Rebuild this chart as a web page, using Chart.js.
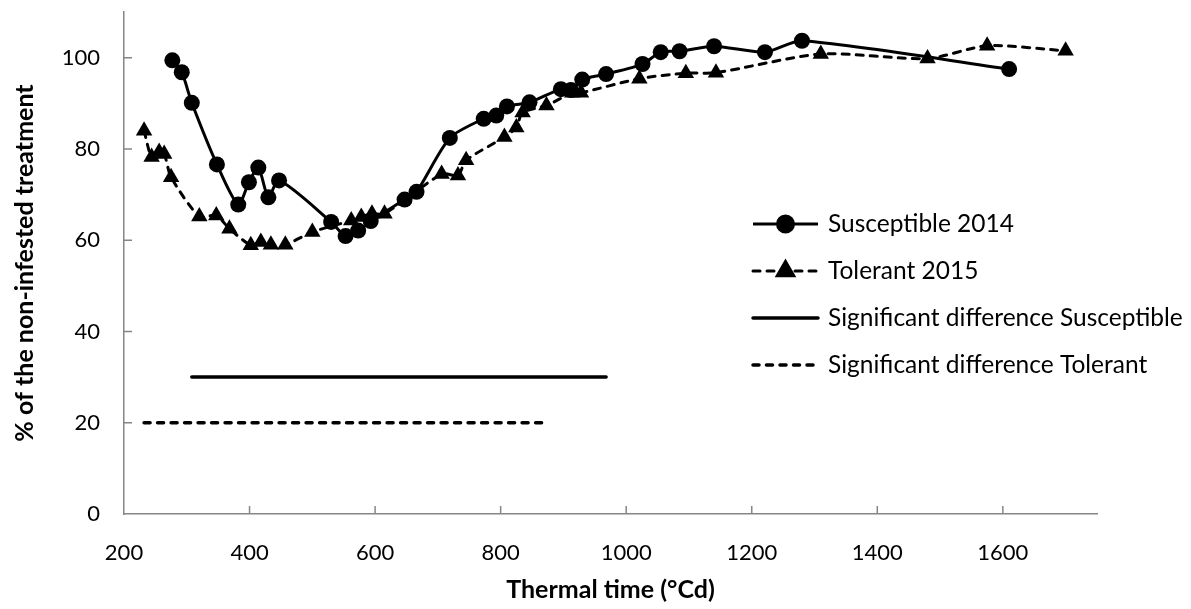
<!DOCTYPE html>
<html>
<head>
<meta charset="utf-8">
<script src="https://cdn.jsdelivr.net/npm/chart.js@4.4.1/dist/chart.umd.min.js"></script>
<style>
  body { margin: 0; background: #fff; }
  #wrap { width: 1191px; height: 609px; }
</style>
</head>
<body>
<div id="wrap"><canvas id="chart"></canvas></div>
<script>
// thermal time (°Cd) and % of non-infested treatment
const suscX = [277, 292, 308, 348, 382, 399, 414, 430, 447, 530, 553, 573, 593, 647, 666, 719, 773, 793, 810, 846, 896, 912, 930, 968, 1026, 1055, 1085, 1140, 1221, 1280, 1610];
const suscY = [99.4, 96.8, 90.1, 76.6, 67.8, 72.7, 75.9, 69.4, 73.1, 64.0, 60.9, 62.1, 64.2, 68.9, 70.6, 82.4, 86.6, 87.3, 89.3, 90.2, 93.1, 92.9, 95.2, 96.4, 98.6, 101.2, 101.4, 102.5, 101.2, 103.7, 97.5];

const tolX = [232, 244, 256, 264, 275, 320, 347, 368, 402, 418, 434, 457, 500, 562, 578, 595, 615, 706, 732, 745, 806, 825, 835, 873, 914, 928, 1021, 1095, 1143, 1310, 1480, 1575, 1700];
const tolY = [84.0, 78.2, 79.3, 78.9, 73.8, 65.2, 65.4, 62.5, 58.9, 59.6, 59.0, 59.0, 61.8, 64.3, 65.1, 65.8, 65.8, 74.5, 74.2, 77.5, 82.6, 84.7, 88.0, 89.5, 92.3, 92.3, 95.4, 96.6, 96.7, 100.8, 99.8, 102.6, 101.5];

// periods of significant difference
const sigSuscX = [308, 968];
const sigSuscY = [30, 30];
const sigTolX = [232, 872];
const sigTolY = [20, 20];

const xTicks = [200, 400, 600, 800, 1000, 1200, 1400, 1600];
const yTicks = [0, 20, 40, 60, 80, 100];

const seriesNames = ["Susceptible 2014", "Tolerant 2015", "Significant difference Susceptible", "Significant difference Tolerant"];

const FONT = "Lato";
const AXIS_GREY = "#868686";

function pts(xs, ys) {
    return xs.map((x, i) => ({ x: x, y: ys[i] }));
}

// Excel-like ticks pointing into the plot
const innerTicks = {
    id: "innerTicks",
    afterDraw(chart) {
        const { ctx, chartArea } = chart;
        const xs = chart.scales.x, ys = chart.scales.y;
        ctx.save();
        ctx.strokeStyle = AXIS_GREY;
        ctx.lineWidth = 1.5;
        ctx.beginPath();
        xs.ticks.forEach(t => {
            const px = xs.getPixelForValue(t.value);
            if (px <= chartArea.left + 1) return;
            ctx.moveTo(px, chartArea.bottom);
            ctx.lineTo(px, chartArea.bottom - 8);
        });
        ys.ticks.forEach(t => {
            const py = ys.getPixelForValue(t.value);
            if (py >= chartArea.bottom - 1) return;
            ctx.moveTo(chartArea.left, py);
            ctx.lineTo(chartArea.left + 8, py);
        });
        ctx.stroke();
        ctx.restore();
    }
};

// legend drawn inside the plot, on the right
const sideLegend = {
    id: "sideLegend",
    afterDraw(chart) {
        const { ctx } = chart;
        const x0 = 753, x1 = 818, top = 224, step = 47;
        ctx.save();
        chart.data.datasets.forEach((ds, i) => {
            const y = top + i * step;
            ctx.strokeStyle = "#000";
            ctx.lineWidth = ds.borderWidth;
            ctx.lineCap = ds.borderCapStyle || "butt";
            ctx.setLineDash(ds.borderDash || []);
            ctx.beginPath();
            ctx.moveTo(x0, y);
            ctx.lineTo(x1, y);
            ctx.stroke();
            ctx.setLineDash([]);
            if (ds.pointRadius > 0) {
                Chart.helpers.drawPoint(ctx, {
                    pointStyle: ds.pointStyle,
                    radius: ds.pointRadius,
                    rotation: 0,
                    borderWidth: 1
                }, (x0 + x1) / 2, y);
                ctx.fillStyle = "#000";
                ctx.fill();
            }
            ctx.fillStyle = "#000";
            ctx.font = "24.5px " + FONT;
            ctx.textAlign = "left";
            ctx.textBaseline = "middle";
            ctx.fillText(ds.label, x1 + 10, y);
        });
        ctx.restore();
    }
};

new Chart(document.getElementById("chart"), {
    type: "scatter",
    data: {
        datasets: [
            {
                label: seriesNames[0],
                data: pts(suscX, suscY),
                showLine: true,
                borderColor: "#000",
                backgroundColor: "#000",
                borderWidth: 3,
                tension: 0.25,
                pointStyle: "circle",
                pointRadius: 8,
                pointBorderWidth: 0
            },
            {
                label: seriesNames[1],
                data: pts(tolX, tolY),
                showLine: true,
                borderColor: "#000",
                backgroundColor: "#000",
                borderWidth: 3,
                borderDash: [7, 7],
                borderCapStyle: "round",
                tension: 0.25,
                pointStyle: "triangle",
                pointRadius: 9.5,
                pointBorderWidth: 0
            },
            {
                label: seriesNames[2],
                data: pts(sigSuscX, sigSuscY),
                showLine: true,
                borderColor: "#000",
                borderWidth: 3.5,
                borderCapStyle: "round",
                pointRadius: 0
            },
            {
                label: seriesNames[3],
                data: pts(sigTolX, sigTolY),
                showLine: true,
                borderColor: "#000",
                borderWidth: 3.5,
                borderDash: [6, 7.5],
                borderCapStyle: "round",
                pointRadius: 0
            }
        ]
    },
    options: {
        responsive: true,
        maintainAspectRatio: false,
        animation: false,
        layout: { padding: { left: 0, right: 94, top: 12, bottom: 0 } },
        plugins: {
            legend: { display: false },
            tooltip: { enabled: false }
        },
        scales: {
            x: {
                type: "linear",
                min: 200,
                max: 1750,
                afterBuildTicks: axis => { axis.ticks = xTicks.map(v => ({ value: v })); },
                afterFit: s => { s.height = 95; s.paddingLeft = 0; s.paddingRight = 0; },
                grid: { display: false, drawTicks: false },
                border: { color: AXIS_GREY, width: 1.5 },
                ticks: {
                    padding: 26,
                    color: "#000",
                    font: { family: FONT, size: 22 },
                    maxRotation: 0,
                    callback: v => String(v)
                },
                title: {
                    display: true,
                    text: "Thermal time (°Cd)",
                    color: "#000",
                    font: { family: FONT, size: 25, weight: "bold" },
                    padding: { top: 0, bottom: 4 }
                }
            },
            y: {
                type: "linear",
                min: 0,
                max: 110,
                afterBuildTicks: axis => { axis.ticks = yTicks.map(v => ({ value: v })); },
                afterFit: s => { s.width = 124; s.paddingTop = 0; s.paddingBottom = 0; },
                grid: { display: false, drawTicks: false },
                border: { color: AXIS_GREY, width: 1.5 },
                ticks: {
                    padding: 24,
                    color: "#000",
                    font: { family: FONT, size: 22 },
                    callback: v => String(v)
                },
                title: {
                    display: true,
                    text: "% of the non-infested treatment",
                    color: "#000",
                    font: { family: FONT, size: 25, weight: "bold" },
                    padding: { top: 10, bottom: 0 }
                }
            }
        }
    },
    plugins: [innerTicks, sideLegend]
});
</script>
</body>
</html>
